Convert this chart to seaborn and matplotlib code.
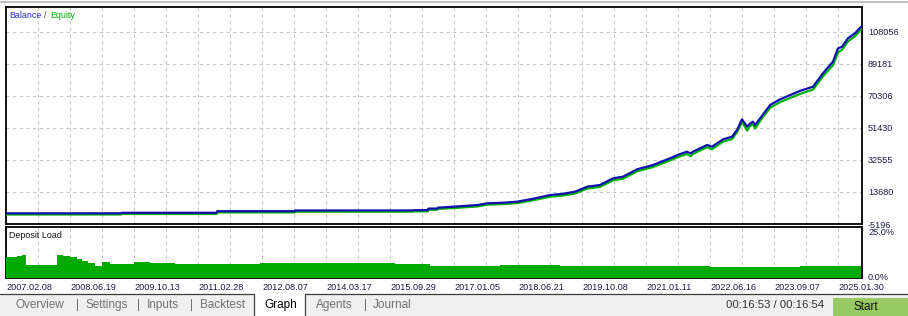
import matplotlib
matplotlib.use("Agg")
import matplotlib.pyplot as plt
from matplotlib.patches import Rectangle
from matplotlib.lines import Line2D
import seaborn as sns
import pandas as pd

# ---------------- data ----------------
# x axis: position in the tester timeline (one unit = one grid cell)
bal_x = [0.00, 3.60, 3.62, 6.58, 6.60, 9.02, 9.04, 12.70, 12.74, 13.18, 13.20, 13.48,
         13.50, 13.97, 14.75, 15.03, 15.50, 15.97, 16.50, 17.00, 17.40, 17.78, 18.16,
         18.56, 18.97, 19.28, 19.72, 20.22, 20.75, 21.00, 21.28, 21.40, 21.47, 21.91,
         22.06, 22.41, 22.69, 22.85, 23.00, 23.16, 23.25, 23.34, 23.41, 23.60, 23.88,
         24.19, 24.50, 24.81, 25.22, 25.53, 25.84, 26.00, 26.13, 26.31, 26.53, 26.72]
balance = [1100, 1120, 1410, 1420, 2350, 2360, 2770, 2800, 2950, 2960, 3890, 3900,
           4420, 5010, 6010, 7010, 7300, 7960, 9800, 11900, 12600, 13860, 16800,
           17800, 21760, 22700, 27070, 29600, 33560, 35600, 37450, 36400, 37500, 41400,
           40400, 44760, 46300, 50500, 56560, 52200, 54000, 55150, 53200, 58000, 65000,
           68360, 70800, 73300, 75800, 83700, 90540, 98440, 99390, 104340, 107290, 111180]
equity = [400, 420, 710, 720, 1650, 1660, 2070, 2100, 2250, 2260, 3190, 3200,
          3720, 4200, 5200, 6200, 6500, 7100, 8900, 10900, 11600, 12800, 15700,
          16700, 20600, 21500, 25900, 28400, 32300, 34300, 36100, 34700, 36200, 40100,
          38900, 43400, 44900, 49100, 54900, 49900, 52500, 53600, 51100, 56500, 63400,
          66700, 69100, 71500, 74100, 81900, 88400, 95900, 97700, 102500, 105500, 109700]

dep_x = [0.00, 0.34, 0.50, 0.625, 1.59, 1.78, 2.00, 2.22, 2.375, 2.56, 2.78, 2.94,
         3.00, 3.25, 4.00, 4.50, 5.28, 7.94, 8.56, 11.375, 12.16, 12.94, 13.25, 14.50,
         15.44, 17.31, 22.00, 22.31, 22.78, 24.81, 26.22, 26.72]
dep_load = [10.2, 10.7, 11.5, 6.5, 11.5, 11.0, 10.3, 9.3, 8.5, 7.3, 6.0, 5.7,
            7.7, 7.0, 8.0, 7.3, 7.0, 7.2, 7.3, 7.2, 7.0, 6.7, 5.7, 6.0,
            6.2, 6.0, 5.5, 5.2, 5.5, 5.7, 6.0, 6.0]

y_ticks = [-5196, 13680, 32555, 51430, 70306, 89181, 108056]
date_labels = ["2007.02.08", "2008.06.19", "2009.10.13", "2011.02.28", "2012.08.07",
               "2014.03.17", "2015.09.29", "2017.01.05", "2018.06.21", "2019.10.08",
               "2021.01.11", "2022.06.16", "2023.09.07", "2025.01.30"]
tabs = ["Overview", "Settings", "Inputs", "Backtest", "Graph", "Agents", "Journal"]

# ---------------- style ----------------
sns.set_theme(style="white")
plt.rcParams["font.family"] = ["Liberation Sans", "DejaVu Sans"]

W, H = 908, 316
fig = plt.figure(figsize=(W / 100, H / 100), dpi=100, facecolor="white")


def rect(x0, y0, x1, y1):
    return [x0 / W, 1 - y1 / H, (x1 - x0) / W, (y1 - y0) / H]


def fx(x):
    return x / W


def fy(y):
    return 1 - y / H


BLUE = "#1010b0"
GREEN = "#00b000"
GRID = "#c8c8c8"
LBL = "#1e1e46"

ax = fig.add_axes(rect(6, 7, 862, 224))
axd = fig.add_axes(rect(6, 227, 862, 278))

df = pd.DataFrame({"x": bal_x, "balance": balance, "equity": equity})
sns.lineplot(data=df, x="x", y="equity", ax=ax, color=GREEN, lw=1.6,
             estimator=None, sort=False, zorder=3)
sns.lineplot(data=df, x="x", y="balance", ax=ax, color=BLUE, lw=1.6,
             estimator=None, sort=False, zorder=4)

XMAX = 26.75
ax.set_xlim(0, XMAX)
ax.set_ylim(-5196, 122800)
ax.set_xticks(range(1, 27))
ax.set_xticklabels([])
ax.yaxis.tick_right()
ax.set_yticks(y_ticks)
ax.set_yticklabels([str(v) for v in y_ticks])
ax.tick_params(axis="x", length=0)
ax.tick_params(axis="y", length=0, pad=4.3, labelsize=6.6, labelcolor=LBL)
ax.grid(True, ls=(0, (3, 3)), color=GRID, lw=0.8)
ax.set_xlabel("")
ax.set_ylabel("")
for s in ax.spines.values():
    s.set_color("black")
    s.set_linewidth(1.3)

# deposit load
axd.fill_between(dep_x, dep_load, step="post", color="#00aa00", lw=0, zorder=3)
axd.set_xlim(0, XMAX)
axd.set_ylim(0, 25)
axd.set_yticks([])
axd.set_xticks(range(0, 27, 2))
axd.set_xticks(range(1, 27, 2), minor=True)
axd.set_xticklabels(date_labels)
for lbl in axd.get_xticklabels():
    lbl.set_horizontalalignment("left")
axd.tick_params(axis="x", which="major", length=2.5, width=0.8, pad=1.2,
                labelsize=6.6, labelcolor=LBL, color="black")
axd.tick_params(axis="x", which="minor", length=0)
axd.grid(True, which="both", axis="x", ls=(0, (3, 3)), color=GRID, lw=0.8)
for s in axd.spines.values():
    s.set_color("black")
    s.set_linewidth(1.3)

fig.text(fx(868), fy(232.5), "25.0%", fontsize=6.6, color=LBL, va="center", ha="left",
         bbox=dict(facecolor="white", edgecolor="none", pad=0.2))
fig.text(fx(868), fy(277), "0.0%", fontsize=6.6, color=LBL, va="center", ha="left")

# legend / panel titles
fig.text(fx(9), fy(16), "Balance", fontsize=6.4, color="#2828c8", va="center")
fig.text(fx(44.5), fy(16), "/", fontsize=6.4, color="#505050", va="center")
fig.text(fx(50), fy(16), "Equity", fontsize=6.4, color=GREEN, va="center")
fig.text(fx(9), fy(235), "Deposit Load", fontsize=6.4, color="#101010", va="center")

# top separator line
fig.add_artist(Line2D([0, 1], [fy(1.5), fy(1.5)], transform=fig.transFigure,
                      color="#b4b4b4", lw=1.2))

# bottom tab bar
fig.add_artist(Rectangle((0, 0), 1, fy(294), transform=fig.transFigure,
                         facecolor="#f0f0f0", edgecolor="none", zorder=0))
fig.add_artist(Rectangle((fx(254), 0), fx(305) - fx(254), fy(293.5), transform=fig.transFigure,
                         facecolor="white", edgecolor="none", zorder=1))
fig.add_artist(Line2D([0, fx(254)], [fy(293.5)] * 2, transform=fig.transFigure,
                      color="#3c3c3c", lw=0.9))
fig.add_artist(Line2D([fx(305), 1], [fy(293.5)] * 2, transform=fig.transFigure,
                      color="#3c3c3c", lw=0.9))
fig.add_artist(Line2D([fx(254), fx(254)], [fy(293.5), 0], transform=fig.transFigure,
                      color="#3c3c3c", lw=0.9))
fig.add_artist(Line2D([fx(305), fx(305)], [fy(293.5), 0], transform=fig.transFigure,
                      color="#3c3c3c", lw=0.9))

tab_x = [16, 85, 147, 200, 264, 316, 373]
sep_x = [76, 137, 190, 364]
for name, x in zip(tabs, tab_x):
    fig.text(fx(x), fy(305), name, fontsize=8.5,
             color="#000000" if name == "Graph" else "#707070", va="center", ha="left")
for x in sep_x:
    fig.text(fx(x), fy(305), "|", fontsize=8.5, color="#707070", va="center", ha="left")

fig.text(fx(824), fy(305), "00:16:53 / 00:16:54", fontsize=8.2, color="#303030",
         va="center", ha="right")
fig.add_artist(Rectangle((fx(833), 0), 1 - fx(833), fy(298), transform=fig.transFigure,
                         facecolor="#97c964", edgecolor="none", zorder=1))
fig.text(fx(865.5), fy(306.5), "Start", fontsize=8.5, color="#101010", va="center", ha="center")

fig.savefig("out.png", dpi=100, facecolor="white")
